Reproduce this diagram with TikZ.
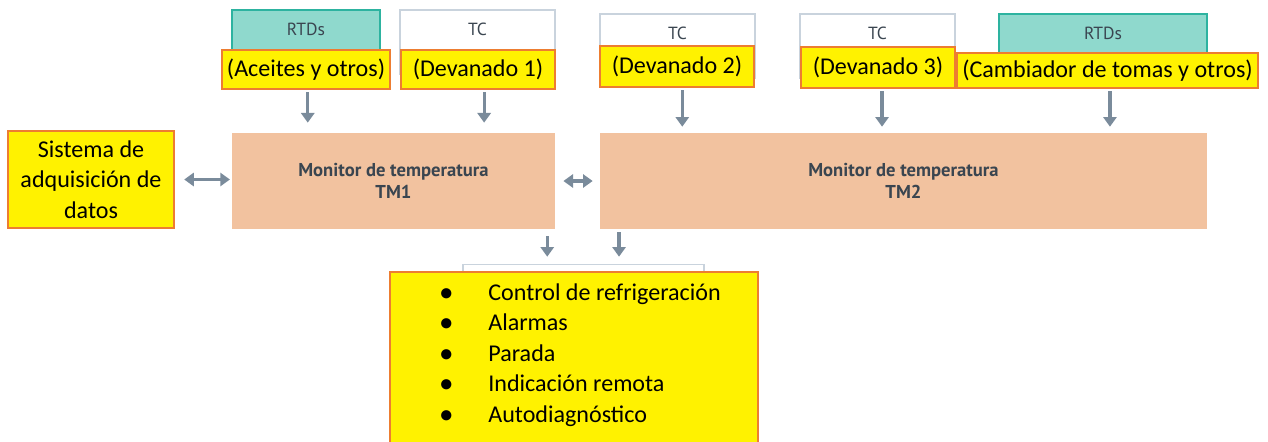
\documentclass[tikz,border=0pt]{standalone}
\usepackage{fontspec}
\setmainfont{Carlito}
\newfontfamily\monfont{PT Sans}
\usetikzlibrary{arrows.meta}
\definecolor{peach}{HTML}{F2C29F}
\definecolor{tealfill}{HTML}{8FD9CD}
\definecolor{tealline}{HTML}{2DB3A0}
\definecolor{arrowgray}{HTML}{7A8B9B}
\definecolor{edgegray}{HTML}{C9D3DD}
\definecolor{darktext}{HTML}{3A4550}
\definecolor{hiorange}{HTML}{ED7D31}

\begin{document}
\begin{tikzpicture}[x=0.02cm, y=-0.02cm,
  sensor/.style={draw=edgegray, line width=0.9pt, fill=white, minimum height=1.28cm, inner sep=0pt},
  rtd/.style={sensor, draw=tealline, fill=tealfill},
  toptext/.style={anchor=north, yshift=-4.2pt, font=\monfont\fontsize{10}{11}\selectfont, text=darktext},
  hilite/.style={draw=hiorange, line width=1.6pt, fill=yellow, inner sep=0pt, font=\fontsize{13.7}{17.3}\selectfont},
  monitor/.style={fill=peach, minimum height=1.92cm, align=center, text=darktext, font=\monfont\bfseries\fontsize{10.6}{12.8}\selectfont},
  item/.style={anchor=west, inner sep=0pt, text height=10pt, text depth=2pt, font=\fontsize{13.7}{17.3}\selectfont},
  flow/.style={draw=arrowgray, line width=1.8pt, -{Triangle[width=7.5pt,length=5.5pt]}},
  both/.style={draw=arrowgray, line width=1.8pt, {Triangle[width=7.5pt,length=5.5pt]}-{Triangle[width=7.5pt,length=5.5pt]}}
]
\clip (0,0) rectangle (1268,441);

% sensors on top
\node[rtd, minimum width=2.96cm, label={[toptext]north:RTDs}] (rtdA) at (306,42) {};
\node[sensor, minimum width=3.10cm, label={[toptext]north:TC}] (tcA) at (477.5,42) {};
\node[sensor, minimum width=3.10cm, label={[toptext]north:TC}] (tcB) at (677.5,46) {};
\node[sensor, minimum width=3.10cm, label={[toptext]north:TC}] (tcC) at (877.5,46) {};
\node[rtd, minimum width=4.16cm, label={[toptext]north:RTDs}] (rtdB) at (1103,46) {};

\node[hilite, minimum width=3.36cm, minimum height=0.78cm] (hlA) at (306,69.5) {(Aceites y otros)};
\node[hilite, minimum width=3.08cm, minimum height=0.78cm] (hlB) at (478,69.5) {(Devanado 1)};
\node[hilite, minimum width=3.08cm, minimum height=0.82cm] (hlC) at (677,66.5) {(Devanado 2)};
\node[hilite, minimum width=3.08cm, minimum height=0.82cm] (hlD) at (878,67.5) {(Devanado 3)};
\node[hilite, minimum width=6.02cm, minimum height=0.70cm] (hlE) at (1107.5,70.5) {(Cambiador de tomas y otros)};

% monitors
\node[monitor, minimum width=6.46cm] (tmA) at (393.5,181) {Monitor de temperatura\\TM1};
\node[monitor, minimum width=12.14cm] (tmB) at (903.5,181) {Monitor de temperatura\\TM2};
\node[hilite, minimum width=3.32cm, minimum height=1.94cm, align=center] (daq) at (91,179.5) {Sistema de\\adquisición de\\datos};

% outputs
\node[sensor, minimum width=4.82cm, minimum height=0.7cm] (outW) at (583.5,282) {};
\node[hilite, minimum width=7.36cm, minimum height=3.76cm] (outs) at (574,366) {};
\foreach \txt [count=\i] in {Control de refrigeración, Alarmas, Parada, Indicación remota, Autodiagnóstico}{
  \node[item] (dot\i) at (440,262.5+30.5*\i) {\textbf{•}};
  \node[item] (out\i) at (488,262.5+30.5*\i) {\txt};
}

% connectors
\draw[flow, shorten <=1pt, shorten >=5.7pt] ([xshift=1pt]hlA.south) -- ([xshift=1pt]hlA.south |- tmA.north);
\draw[flow, shorten <=1pt, shorten >=5.7pt] ([xshift=3.5pt]hlB.south) -- ([xshift=3.5pt]hlB.south |- tmA.north);
\draw[flow, shorten <=1pt, shorten >=3.4pt] ([xshift=3pt]hlC.south) -- ([xshift=3pt]hlC.south |- tmB.north);
\draw[flow, shorten <=1pt, shorten >=3.4pt] ([xshift=2.3pt]hlD.south) -- ([xshift=2.3pt]hlD.south |- tmB.north);
\draw[flow, shorten <=1pt, shorten >=3.4pt] ([xshift=1.4pt]hlE.south) -- ([xshift=1.4pt]hlE.south |- tmB.north);
\draw[both, shorten <=5pt, shorten >=1pt] (daq.east) -- (daq.east -| tmA.west);
\draw[both, shorten <=4.6pt, shorten >=4pt] (tmA.east) -- (tmA.east -| tmB.west);
\draw[flow, shorten <=4pt, shorten >=4pt] ([xshift=-4.6pt]tmA.south east) -- ([xshift=-4.6pt]tmA.south east |- outW.north);
\draw[flow, shorten <=1.7pt, shorten >=4pt] ([xshift=11pt]tmB.south west) -- ([xshift=11pt]tmB.south west |- outW.north);
\end{tikzpicture}
\end{document}
